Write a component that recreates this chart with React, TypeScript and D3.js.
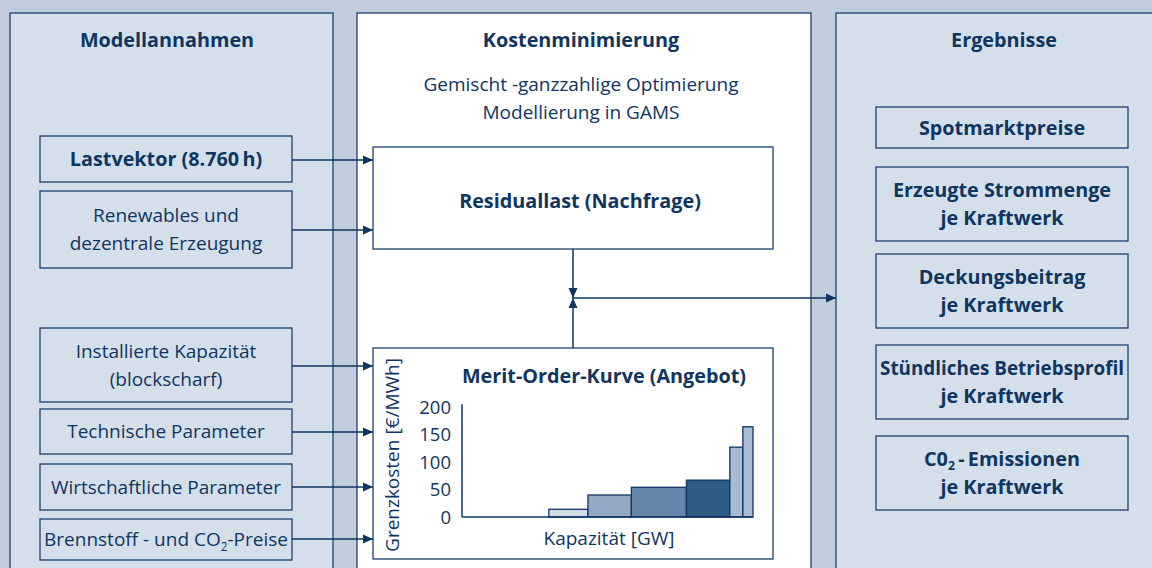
import React from "react";
import * as d3 from "d3";

// ---------- data ----------
const leftItems = [
  ["Lastvektor (8.760\u2009h)"],
  ["Renewables und", "dezentrale Erzeugung"],
  ["Installierte Kapazität", "(blockscharf)"],
  ["Technische Parameter"],
  ["Wirtschaftliche Parameter"],
  ["Brennstoff - und CO|2|-Preise"],
];
const rightItems = [
  ["Spotmarktpreise"],
  ["Erzeugte Strommenge", "je Kraftwerk"],
  ["Deckungsbeitrag", "je Kraftwerk"],
  ["Stündliches Betriebsprofil", "je Kraftwerk"],
  ["C0|2|\u2009-\u2009Emissionen", "je Kraftwerk"],
];
const panelTitles = ["Modellannahmen", "Kostenminimierung", "Ergebnisse"];
const subtitleLines = ["Gemischt -ganzzahlige Optimierung", "Modellierung in GAMS"];
const residualLabel = "Residuallast (Nachfrage)";
const meritTitle = "Merit-Order-Kurve (Angebot)";
const yAxisLabel = "Grenzkosten [€/MWh]";
const xAxisLabel = "Kapazität [GW]";

// merit order: capacity block widths [GW] and marginal cost [€/MWh]
const blockCapacity = [30, 13.5, 15, 19, 15, 4.5, 3.5];
const blockCost = [0, 14, 40, 54, 67, 127, 164];
const costTicks = [0, 50, 100, 150, 200];

// ---------- styles ----------
const blockColors = ["none", "#d3dde8", "#93a8c3", "#6787aa", "#2f5d86", "#a9bcd4", "#a9bcd4"];
const BG = "#c1ccdc";
const PANEL = "#d5dfe9";
const INK = "#0f3561";
const LINE = "#1c416b";
const FONT = "'Open Sans', 'Noto Sans', sans-serif";
const FS_B = 19.8;
const FS_R = 19;
const MAX_TEXT_W = 244; // text inside a 252px box must fit

// layout of boxes
const leftBoxes = [
  { y: 136, h: 46, bold: true, arrowY: 160 },
  { y: 191, h: 77, bold: false, arrowY: 230 },
  { y: 328, h: 74, bold: false, arrowY: 366 },
  { y: 409, h: 45, bold: false, arrowY: 432 },
  { y: 464, h: 46, bold: false, arrowY: 487 },
  { y: 519, h: 41, bold: false, arrowY: 539 },
];
const rightBoxes = [
  { y: 107, h: 41 },
  { y: 167, h: 74 },
  { y: 254, h: 74 },
  { y: 345, h: 74 },
  { y: 436, h: 74 },
];

function RichText({ text, fs }: { text: string; fs: number }) {
  const parts = text.split("|");
  return (
    <>
      {parts.map((p, i) => {
        const sub = i % 2 === 1;
        const prevSub = i > 0 && (i - 1) % 2 === 1;
        return (
          <tspan
            key={i}
            fontSize={sub ? fs * 0.62 : fs}
            dy={sub ? fs * 0.22 : prevSub ? -fs * 0.22 : 0}
          >
            {p}
          </tspan>
        );
      })}
    </>
  );
}

function FitText(props: any) {
  const ref = React.useRef<SVGTextElement>(null);
  React.useLayoutEffect(() => {
    const el = ref.current;
    if (!el) return;
    el.removeAttribute("textLength");
    const w = el.getComputedTextLength();
    if (w > MAX_TEXT_W) {
      el.setAttribute("textLength", String(MAX_TEXT_W));
      el.setAttribute("lengthAdjust", "spacingAndGlyphs");
    }
  });
  return <text ref={ref} {...props} />;
}

function BoxText({
  lines, cx, cy, bold, fs, lh = 28,
}: { lines: string[]; cx: number; cy: number; bold: boolean; fs: number; lh?: number }) {
  const n = lines.length;
  return (
    <g>
      {lines.map((l, i) => (
        <FitText
          key={i}
          x={cx}
          y={cy + (i - (n - 1) / 2) * lh + fs * 0.36}
          textAnchor="middle"
          fontFamily={FONT}
          fontWeight={bold ? 700 : 400}
          fontSize={fs}
          fill={INK}
        >
          <RichText text={l} fs={fs} />
        </FitText>
      ))}
    </g>
  );
}

export default function App() {
  const W = 1152, H = 568;

  // merit-order chart scales
  const cum = d3.cumsum(blockCapacity);
  const starts = blockCapacity.map((_, i) => (i === 0 ? 0 : cum[i - 1]));
  const x = d3.scaleLinear().domain([0, cum[cum.length - 1]]).range([462, 753]);
  const y = d3.scaleLinear().domain([0, 200]).range([517, 407]);

  const arrowMarker = (id: string) => (
    <marker id={id} viewBox="0 0 10 10" refX="10" refY="5" markerWidth="10" markerHeight="10"
      markerUnits="userSpaceOnUse" orient="auto">
      <path d="M0,0.5 L10,5 L0,9.5 Z" fill={INK} />
    </marker>
  );

  const jx = 573, jy = 298;

  return (
    <svg width={W} height={H} style={{ position: "absolute", left: 0, top: 0 }}>
      <defs>{arrowMarker("arr")}</defs>
      <rect x={0} y={0} width={W} height={H} fill={BG} />

      {/* panels */}
      <rect x={10} y={13} width={323} height={620} fill={PANEL} stroke={LINE} strokeWidth={1.3} />
      <rect x={357} y={13} width={454} height={620} fill="#ffffff" stroke={LINE} strokeWidth={1.3} />
      <rect x={836} y={13} width={340} height={620} fill={PANEL} stroke={LINE} strokeWidth={1.3} />

      {panelTitles.map((t, i) => (
        <text key={t} x={[167, 581, 1004][i]} y={47} textAnchor="middle" fontFamily={FONT}
          fontWeight={700} fontSize={FS_B} fill={INK}>{t}</text>
      ))}
      {subtitleLines.map((t, i) => (
        <text key={t} x={581} y={91 + i * 28} textAnchor="middle" fontFamily={FONT}
          fontWeight={400} fontSize={FS_R} fill={INK}>{t}</text>
      ))}

      {/* left boxes + arrows */}
      {leftItems.map((lines, i) => {
        const b = leftBoxes[i];
        return (
          <g key={i}>
            <rect x={40} y={b.y} width={252} height={b.h} fill={PANEL} stroke={LINE} strokeWidth={1.3} />
            <BoxText lines={lines} cx={166} cy={b.y + b.h / 2} bold={b.bold} fs={b.bold ? FS_B : FS_R} />
            <line x1={292} y1={b.arrowY} x2={373} y2={b.arrowY} stroke={INK} strokeWidth={1.5} markerEnd="url(#arr)" />
          </g>
        );
      })}

      {/* right boxes */}
      {rightItems.map((lines, i) => {
        const b = rightBoxes[i];
        return (
          <g key={i}>
            <rect x={876} y={b.y} width={252} height={b.h} fill={PANEL} stroke={LINE} strokeWidth={1.3} />
            <BoxText lines={lines} cx={1002} cy={b.y + b.h / 2} bold={true} fs={FS_B} />
          </g>
        );
      })}

      {/* residual box */}
      <rect x={373} y={147} width={400} height={102} fill="#fff" stroke={LINE} strokeWidth={1.3} />
      <text x={580} y={208} textAnchor="middle" fontFamily={FONT} fontWeight={700} fontSize={FS_B} fill={INK}>
        {residualLabel}
      </text>

      {/* junction */}
      <line x1={jx} y1={249} x2={jx} y2={jy} stroke={INK} strokeWidth={1.5} markerEnd="url(#arr)" />
      <line x1={jx} y1={348} x2={jx} y2={jy} stroke={INK} strokeWidth={1.5} markerEnd="url(#arr)" />
      <line x1={jx} y1={jy} x2={836} y2={jy} stroke={INK} strokeWidth={1.5} markerEnd="url(#arr)" />

      {/* merit order box */}
      <rect x={373} y={348} width={400} height={211} fill="#fff" stroke={LINE} strokeWidth={1.3} />
      <text x={604} y={383} textAnchor="middle" fontFamily={FONT} fontWeight={700} fontSize={FS_B} fill={INK}>
        {meritTitle}
      </text>
      <text transform={`translate(399,455) rotate(-90)`} textAnchor="middle" fontFamily={FONT}
        fontSize={FS_R} fill={INK}>{yAxisLabel}</text>
      <text x={609} y={545} textAnchor="middle" fontFamily={FONT} fontSize={FS_R} fill={INK}>{xAxisLabel}</text>

      {costTicks.map((t) => (
        <text key={t} x={451} y={y(t) + 6.5} textAnchor="end" fontFamily={FONT} fontSize={18.5} fill={INK}>{t}</text>
      ))}

      {blockCost.map((c, i) =>
        c > 0 ? (
          <rect key={i} x={x(starts[i])} y={y(c)} width={x(cum[i]) - x(starts[i])} height={y(0) - y(c)}
            fill={blockColors[i]} stroke={INK} strokeWidth={1.3} />
        ) : null
      )}
      <line x1={x(0)} y1={y(0)} x2={x(cum[cum.length - 1])} y2={y(0)} stroke={INK} strokeWidth={1.5} />
      <line x1={x(0)} y1={y(0)} x2={x(0)} y2={y(205)} stroke={INK} strokeWidth={1.5} />
    </svg>
  );
}
